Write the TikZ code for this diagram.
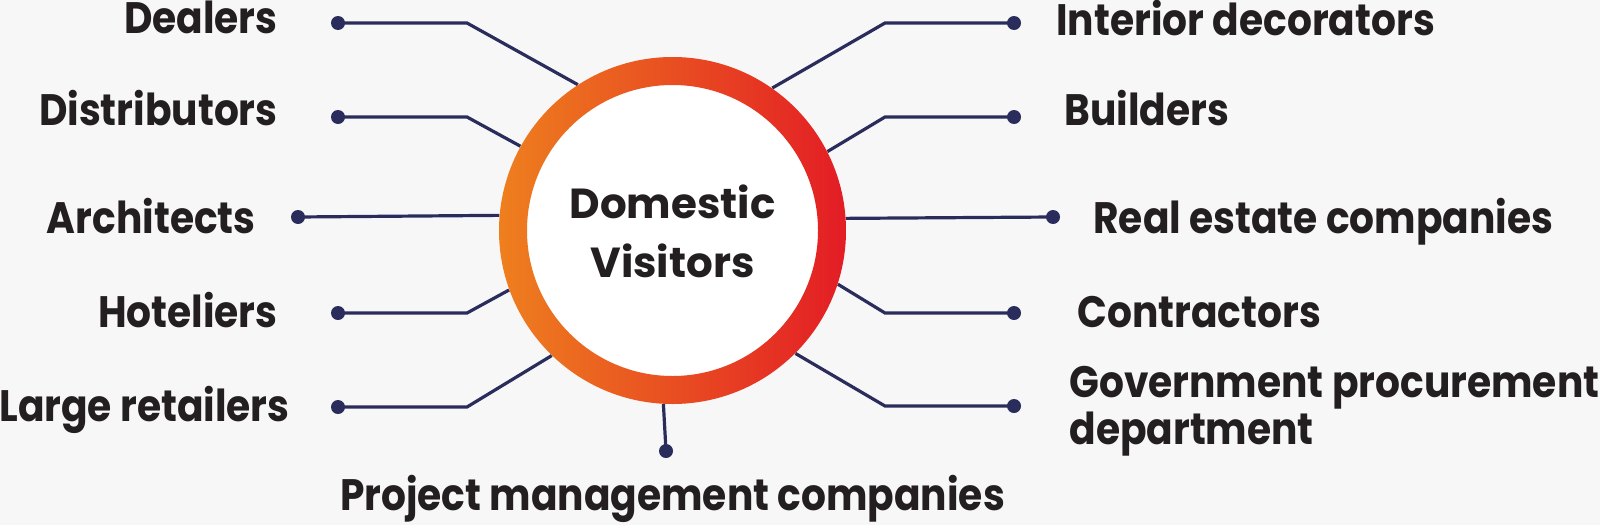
\documentclass[tikz,border=0pt]{standalone}
\usepackage{fontspec}
\setmainfont{Poppins}
\newfontfamily\lblfont{Poppins}[FakeStretch=0.89]
\definecolor{bg}{HTML}{F7F7F7}
\definecolor{navy}{HTML}{2A2D5C}
\definecolor{txt}{HTML}{231F20}
\definecolor{ringor}{HTML}{EE7F1E}
\definecolor{ringred}{HTML}{E31D25}
\begin{document}
\begin{tikzpicture}[x=0.5pt,y=-0.5pt,
  conn/.style={draw=navy, line width=1.6pt},
  dotnode/.style={circle, fill=navy, inner sep=0pt, minimum size=7pt},
  lbl/.style={font=\lblfont\bfseries\fontsize{22}{22}\selectfont, text=txt, inner sep=0pt},
  lleft/.style={lbl, anchor=base east},
  lright/.style={lbl, anchor=base west},
]
\fill[bg] (0,0) rectangle (1600,525);
\useasboundingbox (0,0) rectangle (1600,525);

\node[circle, minimum size=173.5pt, inner sep=0pt] (hub) at (672.5,230.5) {};

% dots
\node[dotnode] (dDea) at (338,23) {};
\node[dotnode] (dDis) at (338,117) {};
\node[dotnode] (dArc) at (298,217) {};
\node[dotnode] (dHot) at (338,313) {};
\node[dotnode] (dLar) at (338,407) {};
\node[dotnode] (dInt) at (1014,23) {};
\node[dotnode] (dBui) at (1014,117) {};
\node[dotnode] (dRea) at (1053,217) {};
\node[dotnode] (dCon) at (1014,313) {};
\node[dotnode] (dGov) at (1014,406) {};
\node[dotnode] (dPro) at (666,451) {};

% bends
\coordinate (bDea) at (467,23);
\coordinate (bDis) at (467,117);
\coordinate (bHot) at (467,313);
\coordinate (bLar) at (467,407);
\coordinate (bInt) at (885,23);
\coordinate (bBui) at (885,117);
\coordinate (bCon) at (885,313);
\coordinate (bGov) at (885,406);

% connectors
\draw[conn] (dDea.center) -- (bDea) -- (hub.123.3);
\draw[conn] (dDis.center) -- (bDis) -- (hub.151.3);
\draw[conn] (dArc.center) -- (hub.175.5);
\draw[conn] (dHot.center) -- (bHot) -- (hub.200);
\draw[conn] (dLar.center) -- (bLar) -- (hub.226.6);
\draw[conn] (dInt.center) -- (bInt) -- (hub.55.1);
\draw[conn] (dBui.center) -- (bBui) -- (hub.27.5);
\draw[conn] (dRea.center) -- (hub.4.5);
\draw[conn] (dCon.center) -- (bCon) -- (hub.-18.6);
\draw[conn] (dGov.center) -- (bGov) -- (hub.-45.5);
\draw[conn] (dPro.center) -- (hub.267.9);

% ring
\fill[white] (672.5,230.5) circle [radius=146];
\shade[even odd rule, left color=ringor, right color=ringred]
  (672.5,230.5) circle [radius=173.5] (672.5,230.5) circle [radius=145.5];

% center text
\node[font=\bfseries\fontsize{21}{29.5}\selectfont, text=txt, inner sep=0pt, align=center] (ctext) at (672.5,231) {Domestic\\Visitors};

% labels
\node[lleft] (lDea) at (278,33) {Dealers};
\node[lleft] (lDis) at (278,125) {Distributors};
\node[lleft] (lArc) at (256,233) {Architects};
\node[lleft] (lHot) at (278,327) {Hoteliers};
\node[lleft] (lLar) at (290,421) {Large retailers};
\node[lright] (lInt) at (1056,35) {Interior decorators};
\node[lright] (lBui) at (1064,125) {Builders};
\node[lright] (lRea) at (1093,233) {Real estate companies};
\node[lright] (lCon) at (1077,327) {Contractors};
\node[lright, align=left] (lGov) at (1069,444) {Government procurement\\department};
\node[lbl, anchor=base] (lPro) at (672.5,510) {Project management companies};
\end{tikzpicture}
\end{document}
